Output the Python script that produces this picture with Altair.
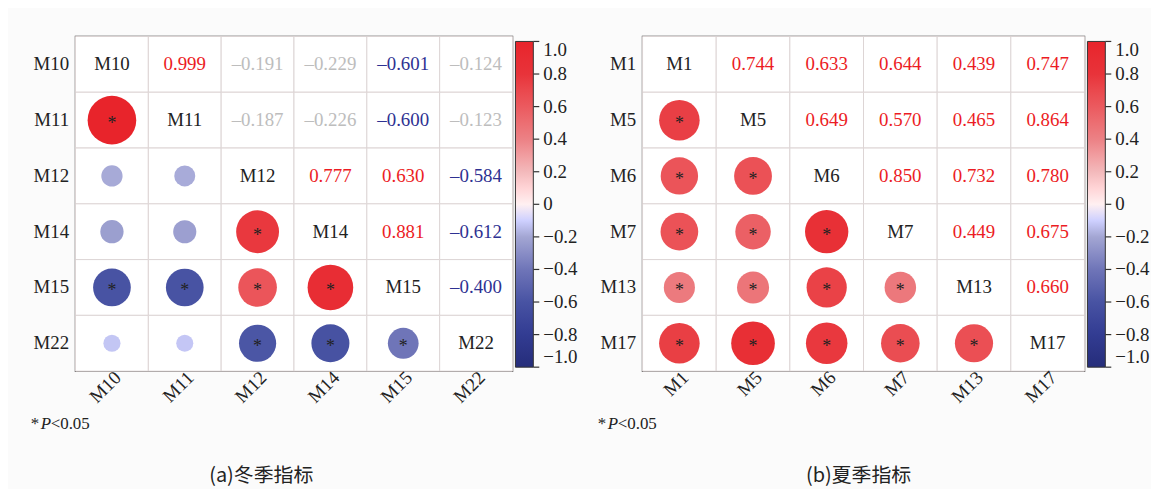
import altair as alt
import pandas as pd

# ---------------- data ----------------
winter_vars = ["M10", "M11", "M12", "M14", "M15", "M22"]
winter_upper = [
    [0.999, -0.191, -0.229, -0.601, -0.124],
    [-0.187, -0.226, -0.600, -0.123],
    [0.777, 0.630, -0.584],
    [0.881, -0.612],
    [-0.400],
]
winter_sig = [
    [1, 0, 0, 1, 0],
    [0, 0, 1, 0],
    [1, 1, 1],
    [1, 1],
    [1],
]

summer_vars = ["M1", "M5", "M6", "M7", "M13", "M17"]
summer_upper = [
    [0.744, 0.633, 0.644, 0.439, 0.747],
    [0.649, 0.570, 0.465, 0.864],
    [0.850, 0.732, 0.780],
    [0.449, 0.675],
    [0.660],
]
summer_sig = [
    [1, 1, 1, 1, 1],
    [1, 1, 1, 1],
    [1, 1, 1],
    [1, 1],
    [1],
]

color_stops = [-1.0, -0.8, -0.6, -0.4, -0.2, 0.0, 0.2, 0.4, 0.6, 0.8, 1.0]
color_range = ["#252d7a", "#323c92", "#4853a3", "#6f75b8", "#a3a6d3", "#ffffff",
               "#f3b9bb", "#ec8185", "#eb5a5f", "#e8333a", "#e8242b"]
legend_ticks = [-1.0, -0.8, -0.6, -0.4, -0.2, 0.0, 0.2, 0.4, 0.6, 0.8, 1.0]

SERIF = "'Liberation Serif', 'Times New Roman', 'DejaVu Serif', serif"
RED_TXT, BLUE_TXT, GRAY_TXT = "#ec1c24", "#2e3192", "#bdbdbd"


def build(vars_, upper, sig):
    n = len(vars_)
    rows = []
    for i in range(n):
        for j in range(n):
            if i == j:
                rows.append(dict(row=vars_[i], col=vars_[j], kind="diag", r=0.0,
                                 absr=0.0, sig=0, label=vars_[i], tcol="#222"))
            else:
                a, b = min(i, j), max(i, j)
                r = upper[a][b - a - 1]
                s = sig[a][b - a - 1]
                lab = f"{r:.3f}".replace("-", "\u2013")
                if s:
                    tc = RED_TXT if r > 0 else BLUE_TXT
                else:
                    tc = GRAY_TXT
                rows.append(dict(row=vars_[i], col=vars_[j],
                                 kind="upper" if j > i else "lower",
                                 r=r, absr=abs(r), sig=s, label=lab, tcol=tc))
    return pd.DataFrame(rows)


def panel(vars_, upper, sig, title, w, h, tdx, smax):
    df = build(vars_, upper, sig)
    sc = alt.Scale(domain=vars_, paddingInner=0, paddingOuter=0)
    base = alt.Chart(df).encode(
        x=alt.X("col:N", scale=sc, sort=vars_,
                axis=alt.Axis(title=None, labelAngle=-45, labelAlign="right",
                              labelBaseline="middle", labelPadding=3,
                              labelOffset=6)),
        y=alt.Y("row:N", scale=sc, sort=vars_,
                axis=alt.Axis(title=None, labelPadding=7)),
    )
    grid = base.mark_rect(fill="white", stroke="#ddd5d5", strokeWidth=1)
    circles = base.transform_filter("datum.kind == 'lower'").mark_circle(
        opacity=1).encode(
        size=alt.Size("absr:Q", scale=alt.Scale(domain=[0, 1], range=[0, smax]),
                      legend=None),
        color=alt.Color("r:Q",
                        scale=alt.Scale(domain=color_stops, range=color_range),
                        legend=alt.Legend(
                            title=None, orient="none", legendX=w + 3, legendY=5,
                            direction="vertical", gradientLength=h - 9,
                            gradientThickness=18, gradientStrokeColor="#333",
                            gradientStrokeWidth=1, values=legend_ticks,
                            labelFont=SERIF, labelFontSize=19, labelColor="#222",
                            labelOverlap=False, labelOffset=10,
                            labelExpr="datum.value == 0 ? '0' : replace(format(datum.value, '.1f'), '-', '\u2013')",
                        )),
    )
    stars = base.transform_filter("datum.kind == 'lower' && datum.sig == 1").mark_text(
        text="*", font=SERIF, fontSize=18, dy=4, color="#222")
    uppers = base.transform_filter("datum.kind == 'upper'").mark_text(
        font=SERIF, fontSize=19).encode(text="label:N",
                                        fill=alt.Fill("tcol:N", scale=None))
    diag = base.transform_filter("datum.kind == 'diag'").mark_text(
        font=SERIF, fontSize=19, color="#222").encode(text="label:N")

    note_df = pd.DataFrame({"a": [0]})
    n1 = alt.Chart(note_df).mark_text(text="*", font=SERIF, fontSize=17, align="left",
                                      color="#222").encode(
        x=alt.value(-45), y=alt.value(h + 53))
    n2 = alt.Chart(note_df).mark_text(text="P", font=SERIF, fontSize=17, align="left",
                                      fontStyle="italic", color="#222").encode(
        x=alt.value(-35), y=alt.value(h + 53))
    n3 = alt.Chart(note_df).mark_text(text="<0.05", font=SERIF, fontSize=17,
                                      align="left", color="#222").encode(
        x=alt.value(-25), y=alt.value(h + 53))

    inner = alt.layer(grid, circles, stars, uppers, diag, n1, n2, n3)

    # tick marks beside the colour bar
    tick_df = pd.DataFrame({"v": legend_ticks})
    cticks = alt.Chart(tick_df).mark_rule(color="#333", strokeWidth=1.2).encode(
        x=alt.value(w + 21), x2=alt.value(w + 27),
        y=alt.Y("v:Q", scale=alt.Scale(domain=[-1, 1], range=[h - 4, 5]), axis=None),
    )

    return alt.layer(inner, cticks).resolve_scale(y="independent").properties(
        width=w, height=h,
        title=alt.TitleParams(title, orient="bottom", font="Noto Sans CJK SC",
                              fontSize=20, fontWeight="normal", color="#222",
                              offset=35, dx=tdx, anchor="middle"),
    )


left = panel(winter_vars, winter_upper, winter_sig, "(a)冬季指标", 440, 337, -33, 2400)
right = panel(summer_vars, summer_upper, summer_sig, "(b)夏季指标", 445, 337, -5, 2240)

chart = alt.hconcat(left, right, spacing=18).resolve_scale(
    color="independent", size="independent"
).resolve_legend(color="independent").configure(
    background="#fbfbfb",
    padding={"left": 22, "top": 25, "right": 0, "bottom": 0},
).configure_view(stroke="#333", strokeWidth=1.5).configure_axis(
    labelFont=SERIF, labelFontSize=19, labelColor="#222", domain=False, ticks=False,
    grid=False,
)

chart.save("out.html", embed_options={"renderer": "svg", "actions": False})
